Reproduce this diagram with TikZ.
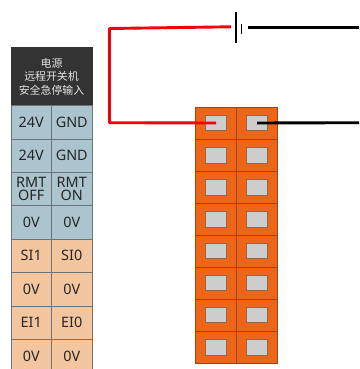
\documentclass[tikz,border=0pt]{standalone}
\usepackage{fontspec}
\setmainfont{Noto Sans}
\newfontfamily\cjk{Noto Sans CJK SC}
\definecolor{hdr}{HTML}{333333}
\definecolor{bluecell}{HTML}{ABC4CE}
\definecolor{peach}{HTML}{F4C6A0}
\definecolor{cellline}{HTML}{6A7378}
\definecolor{orangeb}{HTML}{EE6518}
\definecolor{orangeline}{HTML}{96481C}
\definecolor{padfill}{HTML}{CDCDCD}
\definecolor{padline}{HTML}{8C6A50}
\definecolor{wirered}{HTML}{F5000A}
\tikzset{
  cellbase/.style={draw=cellline,line width=0.6pt,minimum width=40.5pt,minimum height=33.5pt,inner sep=0pt,outer sep=0pt,text=black!85,font=\fontsize{14.4}{13}\selectfont,align=center},
  bluec/.style={cellbase,fill=bluecell},
  peachc/.style={cellbase,fill=peach},
  term/.style={draw=orangeline,line width=0.6pt,fill=orangeb,minimum width=41pt,minimum height=32.25pt,inner sep=0pt,outer sep=0pt},
  pad/.style={draw=padline,line width=0.9pt,fill=padfill,minimum width=21pt,minimum height=15.5pt,inner sep=0pt,outer sep=0pt},
  redwire/.style={draw=wirered,line width=2.9pt,line join=round},
  blackwire/.style={draw=black,line width=2.9pt},
  plate/.style={draw=black,line width=1.1pt}
}
\begin{document}
\begin{tikzpicture}[x=1pt,y=-1pt]
\useasboundingbox (0,0) rectangle (359,369);
% header
\node[fill=hdr,draw=hdr,minimum width=81pt,minimum height=58pt,inner sep=0pt,outer sep=0pt,text=white!90!black,align=center,font=\cjk\fontsize{10.9}{13.4}\selectfont] (head) at (51.5,76.5) {电源\\远程开关机\\安全急停输入};
% left column cells
\node[bluec] (a1) at (31.25,122.25) {24V};
\node[bluec] (b1) at (71.75,122.25) {GND};
\node[bluec] (a2) at (31.25,155.75) {24V};
\node[bluec] (b2) at (71.75,155.75) {GND};
\node[bluec] (a3) at (31.25,189.25) {RMT\\OFF};
\node[bluec] (b3) at (71.75,189.25) {RMT\\ON};
\node[bluec] (a4) at (31.25,222.5) {0V};
\node[bluec] (b4) at (71.75,222.5) {0V};
\node[peachc] (a5) at (31.25,255.75) {SI1};
\node[peachc] (b5) at (71.75,255.75) {SI0};
\node[peachc] (a6) at (31.25,289.25) {0V};
\node[peachc] (b6) at (71.75,289.25) {0V};
\node[peachc] (a7) at (31.25,322.75) {EI1};
\node[peachc] (b7) at (71.75,322.75) {EI0};
\node[peachc] (a8) at (31.25,356.25) {0V};
\node[peachc] (b8) at (71.75,356.25) {0V};
% terminal block
\foreach \i/\yy in {1/123,2/155.25,3/187.5,4/219.25,5/251,6/283,7/315,8/347.25}{
  \node[term] (tl\i) at (216,\yy) {};
  \node[term] (tr\i) at (257,\yy) {};
  \node[pad] (pl\i) at (216,\yy) {};
  \node[pad] (pr\i) at (257,\yy) {};
}
% battery
\coordinate (bl1) at (236,12);
\coordinate (bl2) at (236,43);
\coordinate (bs1) at (241.5,24);
\coordinate (bs2) at (241.5,34);
\draw[plate] (bl1) -- (bl2);
\draw[plate] (bs1) -- (bs2);
\coordinate (redstart) at (231,26.8);
\coordinate (blackstart) at (248,27.5);
\coordinate (redturn) at (109.5,28.5);
\coordinate (blackend) at (359,27.5);
\coordinate (blackend2) at (359,122.7);
% wires
\draw[redwire] (redstart) -- (redturn) -- (109.5,122.7) -- (pl1.center);
\draw[blackwire] (blackstart) -- (blackend);
\draw[blackwire] (pr1.center) -- (blackend2);
\end{tikzpicture}
\end{document}
